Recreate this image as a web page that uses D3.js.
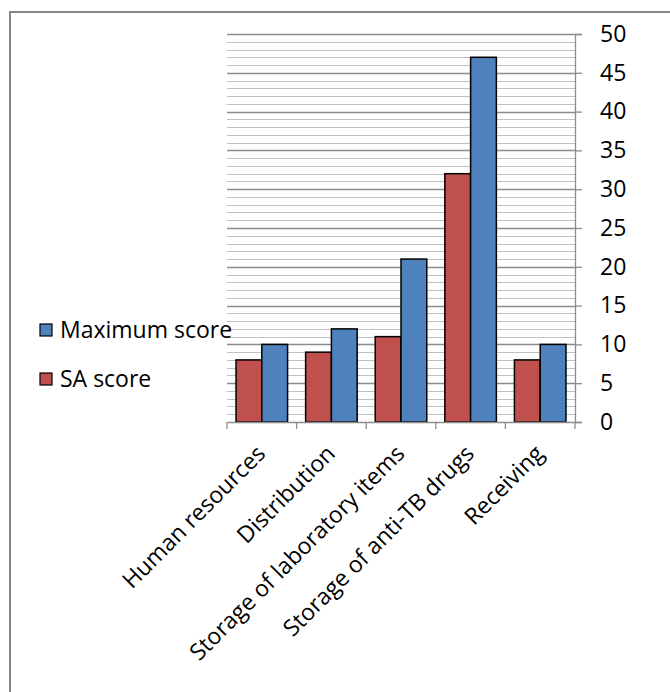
<!DOCTYPE html>
<html>
<head>
<meta charset="utf-8">
<script src="https://cdn.jsdelivr.net/npm/d3@7"></script>
<style>
  body { margin: 0; background: #fff; }
  text { font-family: "Open Sans", sans-serif; fill: #000; }
</style>
</head>
<body>
<div id="chart"></div>
<script>
const width = 670;
const height = 692;

// Data.
const categories = ["Human resources", "Distribution", "Storage of laboratory items", "Storage of anti-TB drugs", "Receiving"];
const saScore = [8, 9, 11, 32, 8];
const maxScore = [10, 12, 21, 47, 10];
const seriesNames = ["SA score", "Maximum score"];
const yTicks = [0, 5, 10, 15, 20, 25, 30, 35, 40, 45, 50];

const colours = { "SA score": "#C0504D", "Maximum score": "#4F81BD" };

const margin = { left: 227, right: 575, top: 34, bottom: 422 };
const fontSize = 23;

const svg = d3.select("#chart")
  .append("svg")
  .attr("width", width)
  .attr("height", height);

// outer frame (only top and left visible)
svg.append("path")
  .attr("d", `M10,${height + 5} V12 H${width + 5}`)
  .attr("fill", "none")
  .attr("stroke", "#878787")
  .attr("stroke-width", 2);

const x = d3.scaleBand()
  .domain(categories)
  .range([margin.left, margin.right]);

const xInner = d3.scaleBand()
  .domain(seriesNames)
  .range([0, x.bandwidth()])
  .paddingOuter(0.35)
  .paddingInner(0);

const y = d3.scaleLinear()
  .domain([0, 50])
  .range([margin.bottom, margin.top]);

// minor gridlines
svg.append("g")
  .selectAll("line")
  .data(d3.range(0, 51, 1).filter(v => v % 5 !== 0))
  .join("line")
  .attr("x1", margin.left)
  .attr("x2", margin.right)
  .attr("y1", d => Math.round(y(d)) + 0.5)
  .attr("y2", d => Math.round(y(d)) + 0.5)
  .attr("stroke", "#c0c0c0")
  .attr("stroke-width", 1.2);

// major gridlines
svg.append("g")
  .selectAll("line")
  .data(yTicks.filter(v => v > 0))
  .join("line")
  .attr("x1", margin.left)
  .attr("x2", margin.right)
  .attr("y1", d => Math.round(y(d)) + 0.5)
  .attr("y2", d => Math.round(y(d)) + 0.5)
  .attr("stroke", "#8c8c8c")
  .attr("stroke-width", 1.3);

// bars
const rows = categories.map((c, i) => ({ cat: c, values: [
  { name: "SA score", value: saScore[i] },
  { name: "Maximum score", value: maxScore[i] }
] }));

svg.append("g")
  .selectAll("g")
  .data(rows)
  .join("g")
  .attr("transform", d => `translate(${x(d.cat)},0)`)
  .selectAll("rect")
  .data(d => d.values)
  .join("rect")
  .attr("x", d => xInner(d.name))
  .attr("y", d => y(d.value))
  .attr("width", xInner.bandwidth())
  .attr("height", d => y(0) - y(d.value))
  .attr("fill", d => colours[d.name])
  .attr("stroke", "#000")
  .attr("stroke-width", 1.5);

// y axis on the right
const yAxis = svg.append("g")
  .attr("transform", `translate(${margin.right},0)`)
  .call(d3.axisRight(y).tickValues(yTicks).tickSize(7).tickPadding(18));
yAxis.select(".domain").attr("stroke", "#8c8c8c").attr("stroke-width", 1.3);
yAxis.selectAll(".tick line").attr("stroke", "#8c8c8c").attr("stroke-width", 1.3);
yAxis.selectAll(".tick text")
  .attr("font-size", fontSize)
  .attr("font-family", "'Open Sans', sans-serif")
  .attr("fill", "#000");

// x axis
const xAxis = svg.append("g")
  .attr("transform", `translate(0,${margin.bottom})`)
  .call(d3.axisBottom(x).tickSize(0).tickFormat(""));
xAxis.select(".domain").attr("stroke", "#8c8c8c").attr("stroke-width", 1.3);

svg.append("g")
  .selectAll("line")
  .data(d3.range(categories.length + 1))
  .join("line")
  .attr("x1", d => margin.left + d * x.step())
  .attr("x2", d => margin.left + d * x.step())
  .attr("y1", margin.bottom)
  .attr("y2", margin.bottom + 7)
  .attr("stroke", "#8c8c8c")
  .attr("stroke-width", 1.3);

svg.append("g")
  .selectAll("text")
  .data(categories)
  .join("text")
  .attr("transform", d => `translate(${x(d) + x.bandwidth() / 2 + 5},${margin.bottom + 33}) rotate(-45)`)
  .attr("text-anchor", "end")
  .attr("font-size", fontSize)
  .text(d => d);

// legend
const legend = svg.append("g")
  .selectAll("g")
  .data(["Maximum score", "SA score"])
  .join("g")
  .attr("transform", (d, i) => `translate(40,${324 + i * 49})`);

legend.append("rect")
  .attr("width", 12)
  .attr("height", 12)
  .attr("fill", d => colours[d])
  .attr("stroke", "#000")
  .attr("stroke-width", 1.2);

legend.append("text")
  .attr("x", 20)
  .attr("y", 14)
  .attr("font-size", fontSize)
  .text(d => d);
</script>
</body>
</html>
